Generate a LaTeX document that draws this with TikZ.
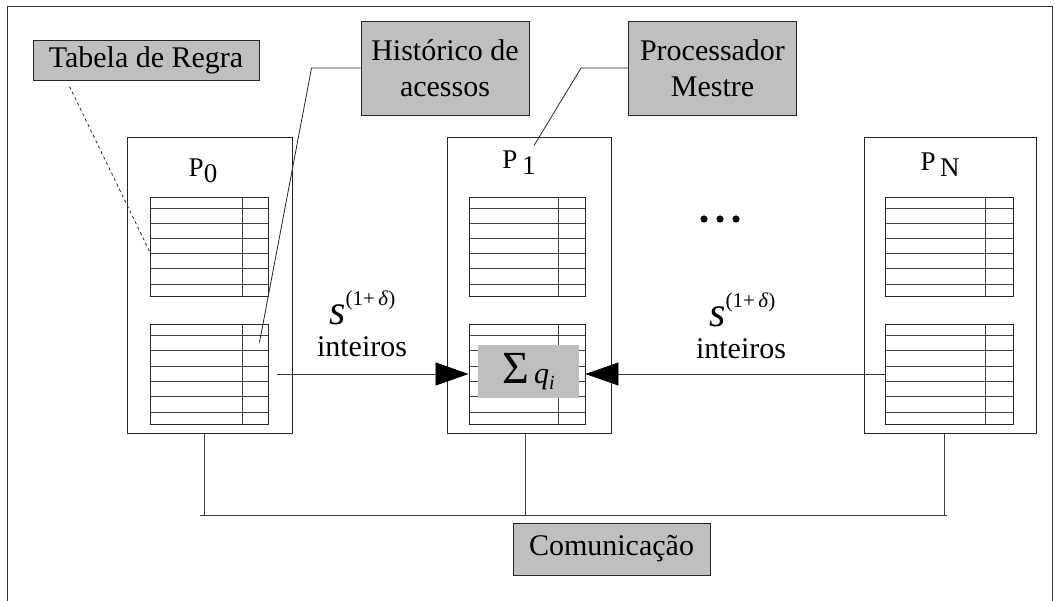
\documentclass[tikz,border=0pt]{standalone}
\usepackage{fontspec}
\setmainfont{LiberationSerif}[Extension=.ttf,UprightFont=*-Regular,ItalicFont=*-Italic,BoldFont=*-Bold,BoldItalicFont=*-BoldItalic]
\newfontfamily\tms{LiberationSerif}[Extension=.ttf,UprightFont=*-Regular,ItalicFont=*-Italic,BoldFont=*-Bold,BoldItalicFont=*-BoldItalic]
\usetikzlibrary{arrows.meta,calc}
\newcommand\tblrows[2]{%
  \foreach \f in {0.12,0.27,0.42,0.57,0.72,0.88}
    \draw[rowline] ($(#1.north west)!\f!(#1.south west)$) -- ($(#1.north east)!\f!(#1.south east)$);
  \draw[rowline] ([xshift=-#2pt]#1.north east) -- ([xshift=-#2pt]#1.south east);
}
\newcommand\sexpo{\textit{s}\raisebox{19pt}{\fontsize{21}{22}\selectfont(1+\,\textit{δ})}}
\begin{document}
\begin{tikzpicture}[x=1pt,y=-1pt,
  frame/.style={draw=black!80,line width=0.9pt},
  lbl/.style={draw=black!85,fill=black!25,line width=0.9pt,inner sep=0pt,align=center,font=\tms\fontsize{30}{36}\selectfont},
  pbox/.style={draw=black!85,line width=0.9pt,inner sep=0pt},
  tbl/.style={draw=black!85,line width=0.9pt,inner sep=0pt,minimum height=100pt},
  rowline/.style={draw=black!75,line width=0.8pt},
  lead/.style={draw=black!85,line width=0.8pt},
  arr/.style={draw=black!80,line width=0.8pt,-{Triangle[length=33pt,width=23pt,color=black]}},
  sumb/.style={fill=black!25,inner sep=0pt,font=\tms\fontsize{30}{32}\selectfont},
  txt/.style={inner sep=0pt,font=\tms\fontsize{30}{32}\selectfont},
  sexp/.style={inner sep=0pt,font=\tms\fontsize{42}{44}\selectfont},
  plab/.style={inner sep=0pt,font=\tms\fontsize{27}{28}\selectfont},
  bus/.style={draw=black!75,line width=0.8pt}]
\useasboundingbox (0,0) rectangle (1055,601);
\draw[frame] (7,601) -- (7,6) -- (1052,6) -- (1052,601);

% label boxes
\node[lbl,minimum width=226pt,minimum height=40pt] (tab) at (146,60) {Tabela de Regra};
\node[lbl,minimum width=168pt,minimum height=94pt] (hist) at (445,68) {Histórico de\\acessos};
\node[lbl,minimum width=168pt,minimum height=94pt] (proc) at (712.5,68) {Processador\\Mestre};
\node[lbl,minimum width=197pt,minimum height=52pt] (com) at (611.5,549) {Comunicação};

% processor boxes
\node[pbox,minimum width=165pt,minimum height=296pt] (p0) at (209.5,285) {};
\node[pbox,minimum width=164pt,minimum height=296pt] (p1) at (529,285) {};
\node[pbox,minimum width=172pt,minimum height=296pt] (pn) at (950,285) {};

\node[plab,anchor=base] (p0l) at (203,177) {P\raisebox{-6pt}{0}};
\node[plab,anchor=base] (p1l) at (519,169) {P\,\raisebox{-6pt}{1}};
\node[plab,anchor=base] (pnl) at (940,171) {P\,\raisebox{-6pt}{N}};

% tables
\node[tbl,minimum width=118pt,minimum height=99pt] (t0a) at (209,246.5) {};
\node[tbl,minimum width=118pt] (t0b) at (209,374) {};
\node[tbl,minimum width=116pt,minimum height=99pt] (t1a) at (527,246.5) {};
\node[tbl,minimum width=116pt] (t1b) at (527,374) {};
\node[tbl,minimum width=128pt,minimum height=99pt] (tna) at (949,246.5) {};
\node[tbl,minimum width=128pt] (tnb) at (949,374) {};
\tblrows{t0a}{26}
\tblrows{t0b}{26}
\tblrows{t1a}{27}
\tblrows{t1b}{27}
\tblrows{tna}{28}
\tblrows{tnb}{28}

% sum box
\node[sumb,minimum width=101pt,minimum height=53pt] (sum) at (528.5,371.5) {{\fontsize{46}{46}\selectfont Σ}\,\textit{q}\raisebox{-6pt}{\fontsize{20}{20}\selectfont\textit{i}}};

% dots
\fill[black] (704,219) circle (3.6);
\fill[black] (720,219) circle (3.6);
\fill[black] (736,219) circle (3.6);

% transfer labels
\node[sexp,anchor=base west] (s0) at (329,325) {\sexpo};
\node[txt,anchor=base] (i0) at (362,357) {inteiros};
\node[sexp,anchor=base west] (sn) at (709,327) {\sexpo};
\node[txt,anchor=base] (in) at (741,359) {inteiros};

% arrows
\coordinate (a0) at ($(t0b.east)+(9,0)$);
\draw[arr] (a0) -- (t1b.west);
\draw[arr] (tnb.west) -- (t1b.east);

% leaders
\coordinate (tabS) at ($(tab.south west)+(37,6)$);
\coordinate (tabE) at ($(t0a.north west)!0.55!(t0a.south west)$);
\draw[lead,dashed] (tabS) -- (tabE);
\coordinate (histE) at ($(t0b.north east)+(-9,19)$);
\draw[lead] (hist.west) -- ++(-49,0) -- (histE);
\coordinate (procE) at ($(p1.north)+(5,9)$);
\draw[lead] (proc.west) -- ++(-47,0) -- (procE);

% bus
\coordinate (busL) at (200,515);
\coordinate (busR) at (947,515);
\draw[bus] (busL) -- (busR);
\draw[bus] ([xshift=-5.5pt]p0.south) -- ([xshift=-5.5pt]p0.south |- busL);
\draw[bus] ([xshift=-4pt]p1.south) -- ([xshift=-4pt]p1.south |- busL);
\draw[bus] ([xshift=-6pt]pn.south) -- ([xshift=-6pt]pn.south |- busL);
\end{tikzpicture}
\end{document}
